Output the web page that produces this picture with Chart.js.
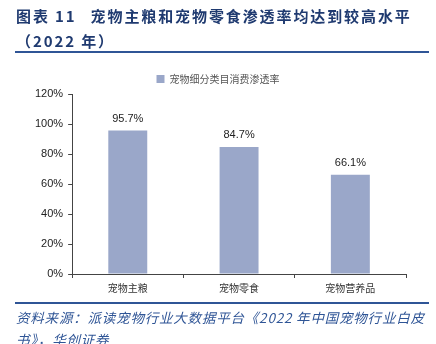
<!DOCTYPE html>
<html>
<head>
<meta charset="utf-8">
<script src="https://cdn.jsdelivr.net/npm/chart.js@4"></script>
<style>
  html, body { margin: 0; padding: 0; background: #fff; }
  body { width: 436px; height: 344px; position: relative; overflow: hidden; }
  .title {
    position: absolute; left: 16px; top: 3px; width: 420px;
    font-family: "Noto Sans CJK SC", sans-serif; font-weight: bold;
    font-size: 15px; line-height: 25px; color: #1f3a70; letter-spacing: 1.9px;
  }
  .title .gap { display: inline-block; width: 14px; }
  .rule { position: absolute; left: 15px; width: 414px; height: 2px; background: #2f5596; }
  .source {
    position: absolute; left: 16px; top: 306px; width: 416px;
    font-family: "Noto Sans CJK SC", sans-serif; font-style: italic;
    font-size: 13.5px; line-height: 22px; color: #2f5596; letter-spacing: 0.8px;
  }
  #wrap { position: absolute; left: 0; top: 0; width: 436px; height: 344px; }
</style>
</head>
<body>
<div id="wrap"><canvas id="chart" width="436" height="344"></canvas></div>
<div class="title">图表 11<span class="gap"></span>宠物主粮和宠物零食渗透率均达到较高水平<br>（2022 年）</div>
<div class="rule" style="top:51px"></div>
<div class="rule" style="top:302px"></div>
<div class="source">资料来源：派读宠物行业大数据平台《2022 年中国宠物行业白皮书》，华创证券</div>
<script>
const categories = ["宠物主粮", "宠物零食", "宠物营养品"];
const penetration = [95.7, 84.7, 66.1];
const seriesName = "宠物细分类目消费渗透率";
const yTicks = [0, 20, 40, 60, 80, 100, 120];

// draw the value above each bar
const valueLabels = {
  id: "valueLabels",
  afterDatasetsDraw(chart) {
    const ctx = chart.ctx;
    const meta = chart.getDatasetMeta(0);
    ctx.save();
    ctx.font = '11px "Liberation Sans", Arial, sans-serif';
    ctx.fillStyle = "#222";
    ctx.textAlign = "center";
    ctx.textBaseline = "bottom";
    meta.data.forEach((bar, i) => {
      ctx.fillText(penetration[i].toFixed(1) + "%", bar.x, bar.y - 6);
    });
    ctx.restore();
  }
};

const ctx = document.getElementById("chart").getContext("2d");
new Chart(ctx, {
  type: "bar",
  data: {
    labels: categories,
    datasets: [{
      label: seriesName,
      data: penetration,
      backgroundColor: "#9aa7c9",
      categoryPercentage: 1.0,
      barPercentage: 0.35
    }]
  },
  options: {
    responsive: false,
    animation: false,
    layout: { padding: { top: 64, left: 30, right: 30, bottom: 46 } },
    plugins: {
      legend: {
        display: true,
        position: "top",
        labels: {
          boxWidth: 8, boxHeight: 8, padding: 10,
          font: { family: '"Noto Sans CJK SC", sans-serif', size: 10 },
          color: "#555"
        }
      },
      tooltip: { enabled: false }
    },
    scales: {
      y: {
        min: 0, max: 120,
        afterBuildTicks: (axis) => { axis.ticks = yTicks.map(v => ({ value: v })); },
        ticks: {
          callback: (v) => v + "%",
          color: "#222",
          padding: 5,
          font: { family: '"Liberation Sans", Arial, sans-serif', size: 11 }
        },
        grid: { drawOnChartArea: false, tickLength: 4, color: "#444" },
        border: { color: "#444", width: 1 }
      },
      x: {
        ticks: {
          color: "#333",
          padding: 4,
          font: { family: '"Noto Sans CJK SC", sans-serif', size: 10 }
        },
        grid: { drawOnChartArea: false, tickLength: 4, color: "#444", offset: true },
        border: { color: "#444", width: 1 }
      }
    }
  },
  plugins: [valueLabels]
});
</script>
</body>
</html>
